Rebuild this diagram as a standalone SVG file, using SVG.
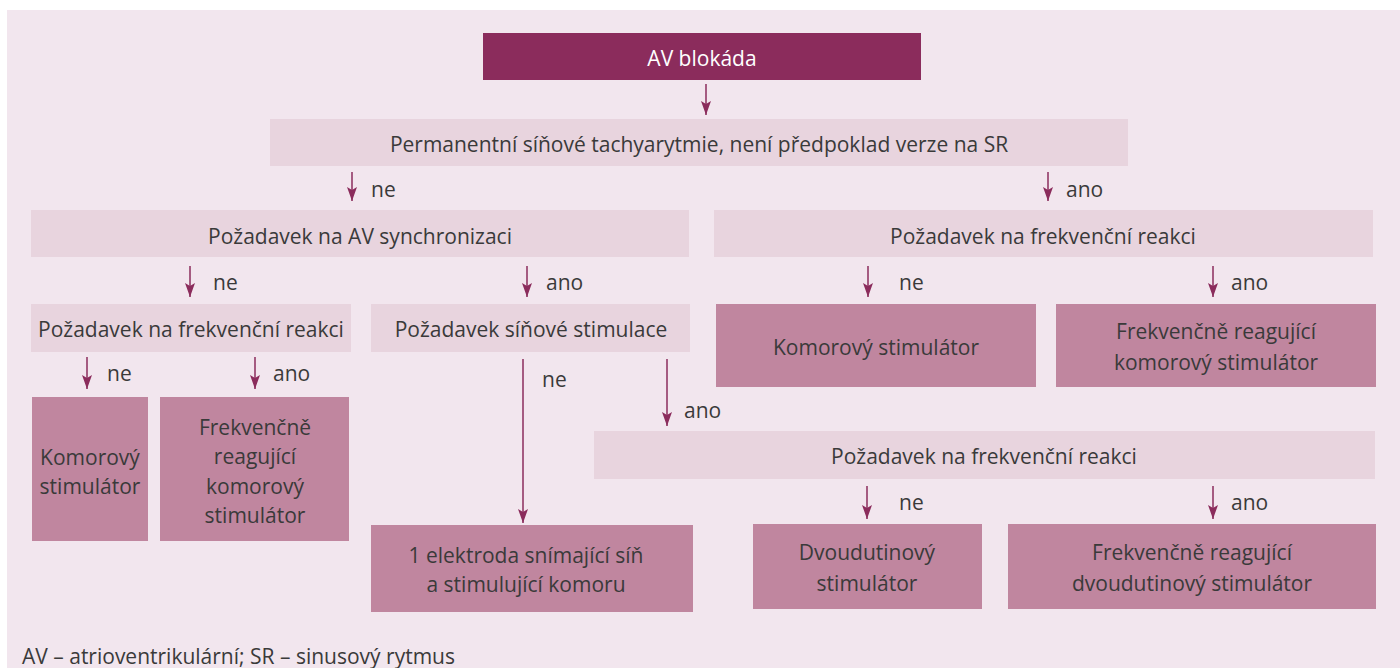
<svg xmlns="http://www.w3.org/2000/svg" width="1400" height="668" viewBox="0 0 1400 668">
<defs>
<style>
.bg{fill:#f2e6ee}
.top{fill:#8b2c5c}
.q{fill:#e8d4de}
.r{fill:#c0869f}
text{font-family:"Open Sans","Noto Sans",sans-serif;font-size:21px;fill:#3a3a3a;text-anchor:middle;dominant-baseline:central}
.lbl{text-anchor:start}
.w{fill:#ffffff}
.foot{text-anchor:start}
.c line{stroke:#8b2c5c;stroke-width:1.5;marker-end:url(#ah)}
</style>
<marker id="ah" markerUnits="userSpaceOnUse" viewBox="0 0 14 10" refX="14" refY="5" markerWidth="14" markerHeight="10" orient="auto">
<path d="M0,0 L14,5 L0,10 L3,5 Z" fill="#8b2c5c"/>
</marker>
</defs>
<rect class="bg" x="7" y="10" width="1393" height="658"/>

<g class="c" id="connectors">
<line x1="706" y1="84" x2="706" y2="115"/>
<line x1="352" y1="172" x2="352" y2="201"/>
<line x1="1048" y1="172" x2="1048" y2="201"/>
<line x1="190" y1="266" x2="190" y2="297"/>
<line x1="527" y1="266" x2="527" y2="297"/>
<line x1="868" y1="266" x2="868" y2="297"/>
<line x1="1213" y1="266" x2="1213" y2="297"/>
<line x1="87" y1="357" x2="87" y2="389"/>
<line x1="255" y1="357" x2="255" y2="389"/>
<line x1="523" y1="359" x2="523" y2="523"/>
<line x1="667" y1="359" x2="667" y2="426"/>
<line x1="867" y1="486" x2="867" y2="519"/>
<line x1="1213" y1="486" x2="1213" y2="519"/>
<text class="lbl" x="371" y="189">ne</text>
<text class="lbl" x="1066" y="189">ano</text>
<text class="lbl" x="213" y="282">ne</text>
<text class="lbl" x="546" y="282">ano</text>
<text class="lbl" x="899" y="282">ne</text>
<text class="lbl" x="1231" y="282">ano</text>
<text class="lbl" x="107" y="373">ne</text>
<text class="lbl" x="273" y="373">ano</text>
<text class="lbl" x="542" y="379">ne</text>
<text class="lbl" x="684" y="410">ano</text>
<text class="lbl" x="899" y="502">ne</text>
<text class="lbl" x="1231" y="502">ano</text>
</g>

<g id="n-av">
<rect class="top" x="483" y="33" width="438" height="47"/>
<text class="w" x="702" y="58">AV blokáda</text>
</g>
<g id="n-perm">
<rect class="q" x="270" y="119" width="858" height="47"/>
<text x="699" y="144">Permanentní síňové tachyarytmie, není předpoklad verze na SR</text>
</g>
<g id="n-avsync">
<rect class="q" x="31" y="210" width="658" height="47"/>
<text x="360" y="236">Požadavek na AV synchronizaci</text>
</g>
<g id="n-frek1">
<rect class="q" x="714" y="210" width="659" height="47"/>
<text x="1043" y="236">Požadavek na frekvenční reakci</text>
</g>
<g id="n-frek2">
<rect class="q" x="31" y="304" width="320" height="48"/>
<text x="191" y="329">Požadavek na frekvenční reakci</text>
</g>
<g id="n-sin">
<rect class="q" x="371" y="304" width="319" height="48"/>
<text x="531" y="329">Požadavek síňové stimulace</text>
</g>
<g id="n-kom1">
<rect class="r" x="716" y="304" width="320" height="83"/>
<text x="876" y="347">Komorový stimulátor</text>
</g>
<g id="n-frkom1">
<rect class="r" x="1056" y="304" width="320" height="83"/>
<text x="1216" y="331">Frekvenčně reagující</text>
<text x="1216" y="362">komorový stimulátor</text>
</g>
<g id="n-kom2">
<rect class="r" x="32" y="397" width="116" height="144"/>
<text x="90" y="457">Komorový</text>
<text x="90" y="486">stimulátor</text>
</g>
<g id="n-frkom2">
<rect class="r" x="160" y="397" width="189" height="144"/>
<text x="255" y="427">Frekvenčně</text>
<text x="255" y="456">reagující</text>
<text x="255" y="486">komorový</text>
<text x="255" y="515">stimulátor</text>
</g>
<g id="n-frek3">
<rect class="q" x="594" y="431" width="781" height="48"/>
<text x="984" y="456">Požadavek na frekvenční reakci</text>
</g>
<g id="n-elek">
<rect class="r" x="371" y="525" width="322" height="87"/>
<text x="526" y="555">1 elektroda snímající síň</text>
<text x="526" y="584">a stimulující komoru</text>
</g>
<g id="n-dvou">
<rect class="r" x="753" y="524" width="229" height="85"/>
<text x="867" y="552">Dvoudutinový</text>
<text x="867" y="583">stimulátor</text>
</g>
<g id="n-frdvou">
<rect class="r" x="1008" y="524" width="368" height="85"/>
<text x="1192" y="552">Frekvenčně reagující</text>
<text x="1192" y="583">dvoudutinový stimulátor</text>
</g>
<text class="foot" x="22" y="656">AV – atrioventrikulární; SR – sinusový rytmus</text>
</svg>
